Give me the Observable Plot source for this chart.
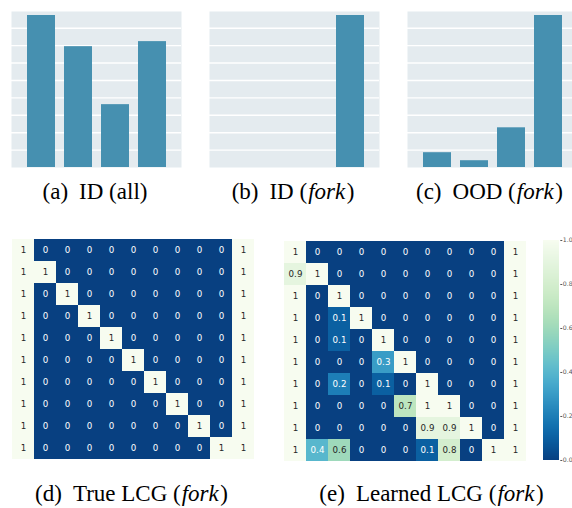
<!DOCTYPE html>
<html>
<head>
<meta charset="utf-8">
<script src="https://cdn.jsdelivr.net/npm/d3@7"></script>
<script src="https://cdn.jsdelivr.net/npm/@observablehq/plot@0.6"></script>
<style>
  html, body { margin: 0; padding: 0; background: #fff; overflow: hidden; }
  #fig { position: relative; width: 572px; height: 508px; overflow: hidden; background: #fff; }
  .panel { position: absolute; width: 300px; }
  .panel svg { display: block; overflow: visible; background: none; max-width: none !important; }
  .cap {
    position: absolute; transform: translateX(-50%); white-space: nowrap;
    font-family: "Liberation Serif", "Times New Roman", "Times", serif;
    font-size: 23px; line-height: 23px; color: #000;
  }
  .cap .lab { margin-right: 11px; }
  .cap i { margin: 0 1.5px 0 1px; }
  .crisp rect { shape-rendering: crispEdges; }
</style>
</head>
<body>
<div id="fig"></div>
<script>
// Four bins per bar panel; heights in units of the background grid.
const bins = ["1", "2", "3", "4"];
const idAll = [8.73, 6.94, 3.61, 7.23];
const idFork = [0, 0, 0, 8.73];
const oodFork = [0.85, 0.39, 2.28, 8.73];
const gridLines = [1, 2, 3, 4, 5, 6, 7, 8];

// Causal graphs: 10 rows x 11 columns.
const trueLCG = [
  [1, 0, 0, 0, 0, 0, 0, 0, 0, 0, 1],
  [1, 1, 0, 0, 0, 0, 0, 0, 0, 0, 1],
  [1, 0, 1, 0, 0, 0, 0, 0, 0, 0, 1],
  [1, 0, 0, 1, 0, 0, 0, 0, 0, 0, 1],
  [1, 0, 0, 0, 1, 0, 0, 0, 0, 0, 1],
  [1, 0, 0, 0, 0, 1, 0, 0, 0, 0, 1],
  [1, 0, 0, 0, 0, 0, 1, 0, 0, 0, 1],
  [1, 0, 0, 0, 0, 0, 0, 1, 0, 0, 1],
  [1, 0, 0, 0, 0, 0, 0, 0, 1, 0, 1],
  [1, 0, 0, 0, 0, 0, 0, 0, 0, 1, 1]
];
const learnedLCG = [
  [1,   0,   0,   0, 0,   0,   0,   0,   0, 0, 1],
  [0.9, 1,   0,   0, 0,   0,   0,   0,   0, 0, 1],
  [1,   0,   1,   0, 0,   0,   0,   0,   0, 0, 1],
  [1,   0,   0.1, 1, 0,   0,   0,   0,   0, 0, 1],
  [1,   0,   0.1, 0, 1,   0,   0,   0,   0, 0, 1],
  [1,   0,   0,   0, 0.3, 1,   0,   0,   0, 0, 1],
  [1,   0,   0.2, 0, 0.1, 0,   1,   0,   0, 0, 1],
  [1,   0,   0,   0, 0,   0.7, 1,   1,   0, 0, 1],
  [1,   0,   0,   0, 0,   0,   0.9, 0.9, 1, 0, 1],
  [1,   0.4, 0.6, 0, 0,   0,   0.1, 0.8, 0, 1, 1]
];
const colorbarTicks = [0, 0.2, 0.4, 0.6, 0.8, 1.0];

const captions = [
  { lab: "(a)", text: "ID (all)", x: 95, y: 180 },
  { lab: "(b)", text: "ID (<i>fork</i>)", x: 293, y: 180 },
  { lab: "(c)", text: "OOD (<i>fork</i>)", x: 489.5, y: 180 },
  { lab: "(d)", text: "True LCG (<i>fork</i>)", x: 131.5, y: 482 },
  { lab: "(e)", text: "Learned LCG (<i>fork</i>)", x: 431.5, y: 482 }
];

const fig = document.getElementById("fig");
function place(node, left, top, cls) {
  const div = document.createElement("div");
  div.className = "panel" + (cls ? " " + cls : "");
  div.style.left = left + "px";
  div.style.top = top + "px";
  div.appendChild(node);
  fig.appendChild(div);
}

function barPanel(values) {
  const data = bins.map((b, i) => ({ bin: b, v: values[i] })).filter(d => d.v > 0);
  return Plot.plot({
    width: 170, height: 156, margin: 0,
    x: { type: "band", domain: bins, paddingInner: 0.25, paddingOuter: 0.4, axis: null },
    y: { domain: [0, 8.96], axis: null },
    marks: [
      Plot.frame({ fill: "#e4ebef", stroke: "none" }),
      Plot.ruleY(gridLines, { stroke: "#ffffff", strokeWidth: 1.4 }),
      Plot.barY(data, { x: "bin", y: "v", fill: "#4690b0" })
    ]
  });
}

const cmap = v => d3.interpolateGnBu(1 - v);
function luminance(c) {
  const rgb = d3.rgb(c);
  const lin = u => { u /= 255; return u <= 0.03928 ? u / 12.92 : Math.pow((u + 0.055) / 1.055, 2.4); };
  return 0.2126 * lin(rgb.r) + 0.7152 * lin(rgb.g) + 0.0722 * lin(rgb.b);
}

function heatPanel(matrix, w, h) {
  const cells = matrix.flatMap((r, i) => r.map((v, j) => ({ row: i, col: j, v })));
  const light = cells.filter(d => luminance(cmap(d.v)) > 0.408);
  const dark = cells.filter(d => luminance(cmap(d.v)) <= 0.408);
  const txt = { x: "col", y: "row", text: d => String(d.v), fontSize: 8.7, fontFamily: "DejaVu Sans" };
  return Plot.plot({
    width: w, height: h, margin: 0,
    x: { type: "band", domain: d3.range(matrix[0].length), padding: 0, axis: null },
    y: { type: "band", domain: d3.range(matrix.length), padding: 0, axis: null },
    color: { type: "linear", scheme: "GnBu", reverse: true, domain: [0, 1] },
    marks: [
      Plot.cell(cells, { x: "col", y: "row", fill: "v", inset: 0 }),
      Plot.text(light, { ...txt, fill: "#262626" }),
      Plot.text(dark, { ...txt, fill: "#ffffff" })
    ]
  });
}

function colorbar() {
  const n = 220;
  const ramp = d3.range(n).map(i => ({ a: i / n, b: (i + 1) / n, m: (i + 0.5) / n }));
  return Plot.plot({
    width: 16.3 + 14, height: 230,
    marginTop: 5, marginBottom: 5, marginLeft: 0, marginRight: 14,
    style: { fontSize: "6.2px", fontFamily: "DejaVu Sans", color: "#555" },
    x: { axis: null },
    y: { domain: [0, 1], axis: "right", ticks: colorbarTicks, tickFormat: d3.format(".1f"), tickSize: 2, tickPadding: 1, label: null },
    color: { type: "linear", scheme: "GnBu", reverse: true, domain: [0, 1] },
    marks: [
      Plot.rect(ramp, { y1: "a", y2: "b", fill: "m" })
    ]
  });
}

place(barPanel(idAll), 11, 11);
place(barPanel(idFork), 209, 11);
place(barPanel(oodFork), 407, 11);
place(heatPanel(trueLCG, 249.7, 222.2), 7.65, 238.3, "crisp");
place(heatPanel(learnedLCG, 242.5, 221), 283.5, 240, "crisp");
place(colorbar(), 542.7, 235, "crisp");

for (const c of captions) {
  const div = document.createElement("div");
  div.className = "cap";
  div.style.left = c.x + "px";
  div.style.top = c.y + "px";
  div.innerHTML = `<span class="lab">${c.lab}</span>${c.text}`;
  fig.appendChild(div);
}
</script>
</body>
</html>
